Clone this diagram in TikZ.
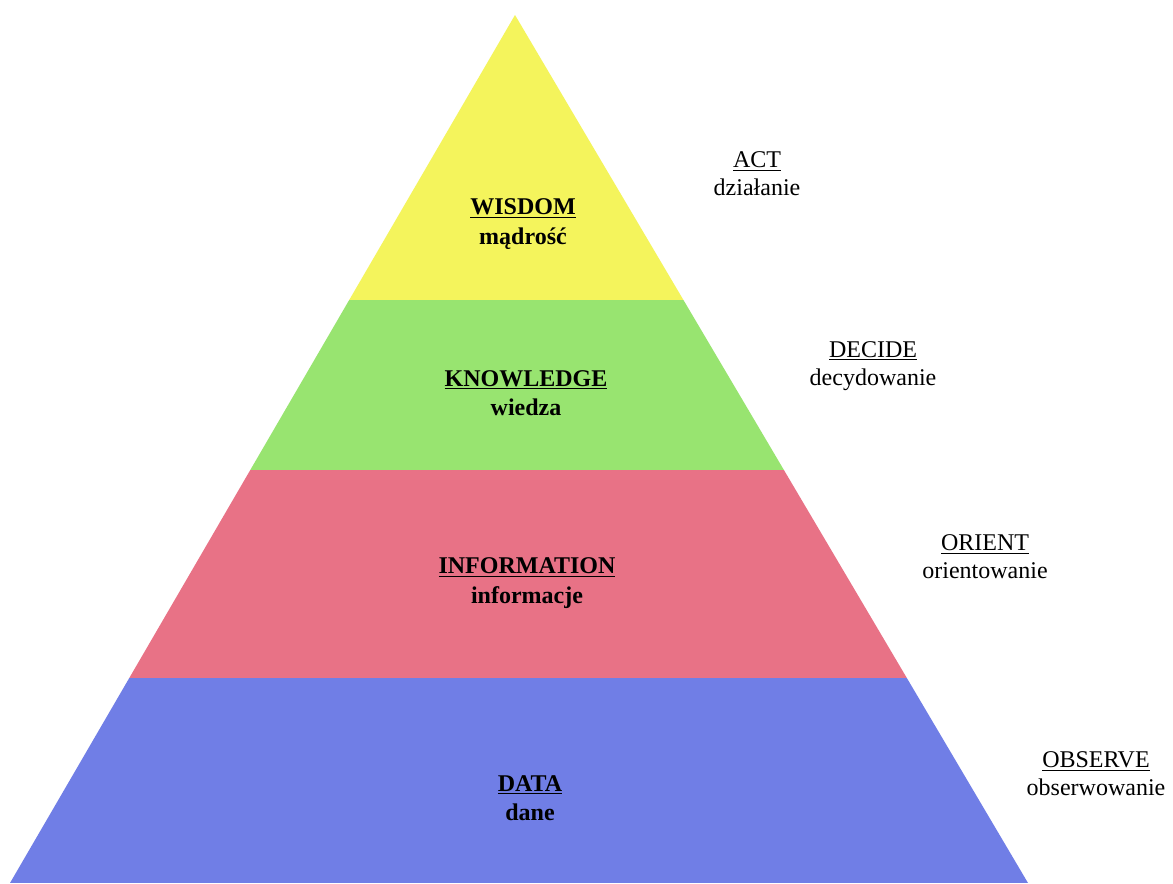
\documentclass[tikz,border=0pt]{standalone}
\usepackage{fontspec}
\setmainfont{Liberation Serif}
\usepackage{tikz}
\usetikzlibrary{positioning}

\definecolor{wisdomyellow}{RGB}{244,244,92}
\definecolor{knowgreen}{RGB}{152,228,112}
\definecolor{infored}{RGB}{232,114,134}
\definecolor{datablue}{RGB}{112,126,230}

\begin{document}
\begin{tikzpicture}[x=0.75pt,y=-0.75pt,
                    stage/.style={align=center,font=\bfseries\fontsize{18}{22}\selectfont},
                    loopstep/.style={align=center,font=\fontsize{18}{21}\selectfont}]
                \useasboundingbox (0,0) rectangle (1173,883);
                \fill[white] (0,0) rectangle (1173,883);
                \coordinate (apex) at (515,15);
                \coordinate (bl) at (10,883);
                \coordinate (br) at (1028,883);

                % pyramid bands
                \begin{scope}
                \clip (apex) -- (bl) -- (br) -- cycle;
                \fill[wisdomyellow] (0,0) rectangle (1173,300);
                \fill[knowgreen] (0,300) rectangle (1173,470);
                \fill[infored] (0,470) rectangle (1173,678);
                \fill[datablue] (0,678) rectangle (1173,883);
                \end{scope}

                \node[stage] (wisdom) at (523,224) {\underline{WISDOM}\\mądrość};
                \node[stage] (knowledge) at (526,393) {\underline{KNOWLEDGE}\\wiedza};
                \node[stage] (information) at (527,583) {\underline{INFORMATION}\\informacje};
                \node[stage] (data) at (530,798) {\underline{DATA}\\dane};

                \node[loopstep] (act) at (757,174) {\underline{ACT}\\działanie};
                \node[loopstep] (decide) at (873,366) {\underline{DECIDE}\\decydowanie};
                \node[loopstep] (orient) at (985,557) {\underline{ORIENT}\\orientowanie};
                \node[loopstep] (observe) at (1096,774) {\underline{OBSERVE}\\obserwowanie};
\end{tikzpicture}
\end{document}
